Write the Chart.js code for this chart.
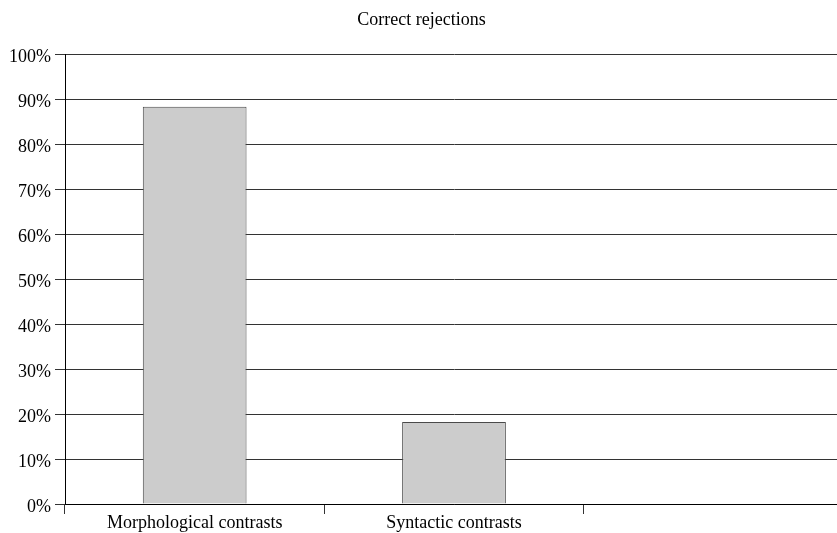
<!DOCTYPE html>
<html>
<head>
<meta charset="utf-8">
<script src="https://cdn.jsdelivr.net/npm/chart.js@4/dist/chart.umd.min.js"></script>
<style>
html,body{margin:0;padding:0;background:#fff;overflow:hidden;}
#wrap{width:837px;height:533px;overflow:hidden;}
</style>
</head>
<body>
<div id="wrap"><canvas id="c" width="843" height="533"></canvas></div>
<script>
const categories = ["Morphological contrasts", "Syntactic contrasts", ""];
const correctRejections = [88.3, 18.2, null];
const yTicks = [0, 10, 20, 30, 40, 50, 60, 70, 80, 90, 100];

const serif = "'Liberation Serif', 'DejaVu Serif', serif";

new Chart(document.getElementById('c'), {
  type: 'bar',
  data: {
    labels: categories,
    datasets: [{
      label: 'Correct rejections',
      data: correctRejections,
      backgroundColor: '#cccccc',
      borderColor: '#4a4a4a',
      borderWidth: 1,
      barPercentage: 0.4,
      categoryPercentage: 1.0
    }]
  },
  options: {
    responsive: false,
    animation: false,
    devicePixelRatio: 1,
    layout: { padding: 0 },
    plugins: {
      legend: { display: false },
      tooltip: { enabled: false },
      title: {
        display: true,
        text: 'Correct rejections',
        color: '#000',
        font: { family: serif, size: 18, weight: 'normal' },
        padding: { top: 9, bottom: 23.4 }
      }
    },
    scales: {
      x: {
        offset: true,
        grid: {
          offset: true,
          drawOnChartArea: false,
          drawTicks: true,
          tickLength: 10,
          color: '#333',
          lineWidth: 1
        },
        border: { display: true, color: '#000', width: 1 },
        ticks: {
          color: '#000',
          font: { family: serif, size: 18 },
          padding: -2,
          maxRotation: 0,
          autoSkip: false
        },
        afterFit: (s) => { s.height = 29; }
      },
      y: {
        min: 0,
        max: 100,
        afterBuildTicks: (s) => { s.ticks = yTicks.map(v => ({ value: v })); },
        grid: {
          color: '#333',
          lineWidth: 1,
          drawTicks: true,
          tickLength: 10
        },
        border: { display: true, color: '#000', width: 1 },
        ticks: {
          color: '#000',
          font: { family: serif, size: 18 },
          padding: 4,
          labelOffset: 3,
          callback: (v) => v + '%'
        },
        afterFit: (s) => { s.width = 65; }
      }
    }
  }
});
</script>
</body>
</html>
